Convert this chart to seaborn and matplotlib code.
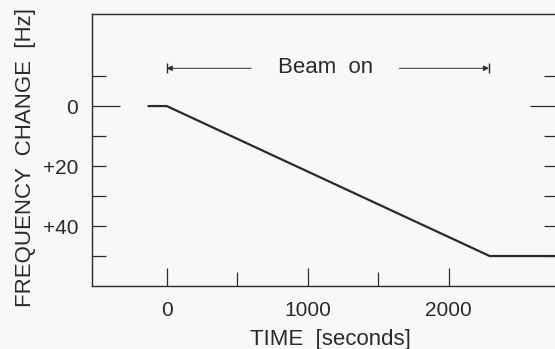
import matplotlib
matplotlib.use("Agg")
import matplotlib.pyplot as plt
import seaborn as sns
import pandas as pd
from matplotlib.ticker import FixedLocator

# Data
time_s = [-130, 0, 2290, 2800]
freq_change = [0, 0, 50, 50]
x_ticks = [0, 1000, 2000]
x_tick_labels = ["0", "1000", "2000"]
y_ticks = [-10, 0, 10, 20, 30, 40, 50]
y_tick_labels = ["", "0", "", "+20", "", "+40", ""]
beam_start, beam_end, beam_level = 0, 2285, -12.6

sns.set_theme(style="white")
plt.rcParams['font.family'] = ['Liberation Sans', 'DejaVu Sans']

BG = "#f8f8f6"
INK = "#2a2a2a"

fig = plt.figure(figsize=(5.55, 3.49), dpi=100, facecolor=BG)
ax = fig.add_axes([92/555, 63/349, (558-92)/555, (286-14)/349])
ax.set_facecolor(BG)

df = pd.DataFrame({"t": time_s, "f": freq_change})
sns.lineplot(data=df, x="t", y="f", ax=ax, color=INK, lw=1.6, estimator=None, sort=False)

ax.set_xlim(-530, 2775)
ax.set_ylim(60, -30.7)

for s in ax.spines.values():
    s.set_color(INK)
    s.set_linewidth(1.0)

ax.xaxis.set_major_locator(FixedLocator(x_ticks))
ax.set_xticklabels(x_tick_labels)
ax.xaxis.set_minor_locator(FixedLocator([500, 1500]))
ax.yaxis.set_major_locator(FixedLocator(y_ticks))
ax.set_yticklabels(y_tick_labels)

ax.tick_params(axis="x", which="major", direction="in", length=13, width=0.9,
               color=INK, labelsize=15, labelcolor=INK, pad=11, bottom=True, top=False)
ax.tick_params(axis="x", which="minor", direction="in", length=10, width=0.9,
               color=INK, bottom=True, top=False)
ax.tick_params(axis="y", which="major", direction="in", length=10, width=0.9,
               color=INK, labelsize=15, labelcolor=INK, pad=10, left=True, right=True)
for tk in ax.yaxis.get_major_ticks():
    if tk.get_loc() == 0:
        tk.tick1line.set_markersize(20)
        tk.tick2line.set_markersize(20)

ax.set_xlabel("TIME  [seconds]", fontsize=16, color=INK)
ax.set_ylabel("FREQUENCY  CHANGE  [Hz]", fontsize=16, color=INK)
ax.xaxis.set_label_coords(0.512, -0.158)
ax.yaxis.set_label_coords(-0.121, 0.472)

# Beam on annotation
ax.text(1130, beam_level - 0.3, "Beam  on", fontsize=16, color=INK, ha="center", va="center")
arrow_kw = dict(arrowstyle="-|>", lw=0.7, color=INK, mutation_scale=8, shrinkA=0, shrinkB=0)
ax.annotate("", xy=(beam_start, beam_level), xytext=(600, beam_level), arrowprops=arrow_kw)
ax.annotate("", xy=(beam_end, beam_level), xytext=(1650, beam_level), arrowprops=arrow_kw)
ax.plot([beam_start, beam_end], [beam_level, beam_level], ls="none", marker="|",
        ms=7, mew=1.0, color=INK)

fig.savefig("out.png", dpi=100, facecolor=BG)
